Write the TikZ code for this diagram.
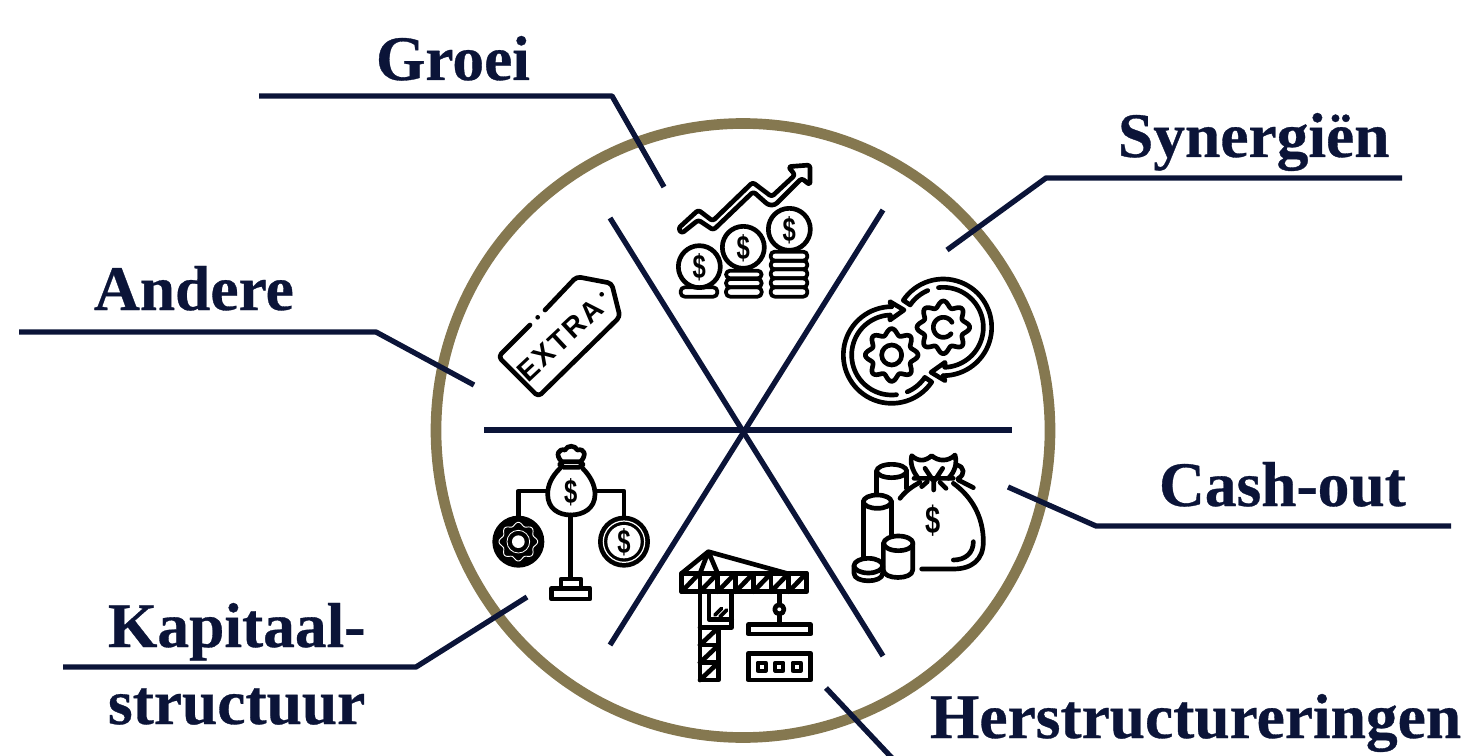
\documentclass[tikz,border=0pt]{standalone}
\usepackage{graphicx}
\usepackage{fontspec}
\setmainfont[BoldFeatures={FakeBold=0.5}]{Liberation Serif}
\newfontfamily\iconfont{Liberation Sans Bold}
\definecolor{navy}{HTML}{0B1438}
\definecolor{ringgold}{HTML}{857850}
\tikzset{
  lbl/.style={font=\fontsize{47.6pt}{50pt}\selectfont\bfseries,text=navy,anchor=base west,inner sep=0pt,outer sep=0pt},
  spoke/.style={draw=navy,line width=4pt},
  callout/.style={draw=navy,line width=4pt,line join=round},
  ring/.style={draw=ringgold,line width=8pt},
  ico/.style={draw=black,line width=3.5pt,line cap=round,line join=round},
  icothin/.style={draw=black,line width=2.8pt,line cap=round,line join=round},
  dollar/.style={font=\iconfont\fontsize{21pt}{21pt}\selectfont,text=black,inner sep=0pt},
  zoomed/.style={x=0.25pt,y=-0.25pt}
}
\newcommand{\dol}{\scalebox{0.85}[1.2]{\$}}
\newcommand{\gearpath}[4]{plot[domain=0:360,samples=145,variable=\t,smooth] ({#1+(#3+#4*cos(8*\t))*cos(\t)},{#2-(#3+#4*cos(8*\t))*sin(\t)})}
\newcommand{\swirl}{
  \draw[ico] plot[domain=90:326,samples=50,variable=\t] ({185+145*cos(\t)},{270-145*sin(\t)})
     -- plot[domain=326:293,samples=10,variable=\t] ({185+120*cos(\t)},{270-120*sin(\t)});
  \draw[ico] (185,125) -- (180,110) -- (222,135) -- (180,165) -- (180,150)
     -- plot[domain=92:277,samples=50,variable=\t] ({185+120*cos(\t)},{270-120*sin(\t)});
  \draw[ico] \gearpath{185}{270}{70}{9} -- cycle;
}
\begin{document}
\begin{tikzpicture}[x=0.75pt,y=-0.75pt]
\useasboundingbox (0,0) rectangle (1471,756);
% ring and spokes
\coordinate (hub) at (743,430.5);
\draw[ring] (hub) circle (307);
\coordinate (s1) at (484,430); \coordinate (s2) at (1012,430);
\coordinate (s3) at (610,218); \coordinate (s4) at (883,656);
\coordinate (s5) at (883,210); \coordinate (s6) at (610,645);
\draw[spoke] (s1) -- (s2);
\draw[spoke] (s3) -- (s4);
\draw[spoke] (s5) -- (s6);
% labels
\node[lbl] (groei) at (376,80) {Groei};
\node[lbl] (syn) at (1118,157) {Synergiën};
\node[lbl] (andere) at (94,310) {Andere};
\node[lbl] (cash) at (1159,506) {Cash-out};
\node[lbl] (kap) at (108,647) {Kapitaal-};
\node[lbl] (struct) at (108,724) {structuur};
\node[lbl] (herstr) at (930,738) {Herstructureringen};
% callouts
\coordinate (g0) at (259,96); \coordinate (g1) at (612,96); \coordinate (g2) at (664,187);
\draw[callout] (g0) -- (g1) -- (g2);
\coordinate (y0) at (1402,178); \coordinate (y1) at (1046,178); \coordinate (y2) at (947,250);
\draw[callout] (y0) -- (y1) -- (y2);
\coordinate (a0) at (19,332); \coordinate (a1) at (376,332); \coordinate (a2) at (474,385);
\draw[callout] (a0) -- (a1) -- (a2);
\coordinate (c0) at (1451,526); \coordinate (c1) at (1096,526); \coordinate (c2) at (1008,487);
\draw[callout] (c0) -- (c1) -- (c2);
\coordinate (k0) at (63,667); \coordinate (k1) at (416,667); \coordinate (k2) at (527,597);
\draw[callout] (k0) -- (k1) -- (k2);
\coordinate (h0) at (826,688); \coordinate (h1) at (892,758);
\draw[callout] (h0) -- (h1);

% ---- growth icon
\begin{scope}[shift={(660,150)},zoomed]
  \draw[ico,rounded corners=2pt] (55,235) -- (115,180) -- (158,213) -- (278,97) -- (335,140) -- (405,75) -- (385,50) -- (450,45) -- (450,105) -- (425,85) -- (345,165) -- (325,165) -- (280,125) -- (160,240) -- (115,210) -- (65,250) -- cycle;
  \draw[ico] (118,350) circle (63);
  \draw[ico] (250,292) circle (63);
  \draw[ico] (388,238) circle (63);
  \node[dollar] (d1) at (118,352) {\dol};
  \node[dollar] (d2) at (250,294) {\dol};
  \node[dollar] (d3) at (388,240) {\dol};
  \foreach \a/\b/\c/\d in {62/412/172/440,198/362/305/385,198/387/305/412,198/412/305/440,332/305/442/332,332/332/442/358,332/358/442/385,332/385/442/412,332/412/442/440}
    \draw[icothin,rounded corners=3pt] (\a,\b) rectangle (\c,\d);
\end{scope}

% ---- gears icon
\begin{scope}[shift={(830,265)},zoomed]
  \swirl
  \draw[ico] (185,270) circle (30);
  \begin{scope}[shift={(525,457)},xscale=-1,yscale=-1]
    \swirl
  \end{scope}
  \draw[ico] plot[domain=30:320,samples=40,variable=\t] ({340+30*cos(\t)},{187-30*sin(\t)});
\end{scope}

% ---- money bag icon
\begin{scope}[shift={(840,445)},zoomed]
  \draw[ico] (235,100) .. controls (215,75) and (210,50) .. (215,32) .. controls (235,50) and (255,50) .. (275,32) .. controls (295,50) and (325,50) .. (345,30) .. controls (352,55) and (345,80) .. (325,100);
  \draw[ico] (350,60) .. controls (375,65) and (375,90) .. (355,100);
  \draw[ico] (255,70) -- (278,105) (308,70) -- (285,105) (281,105) -- (281,135) (222,100) -- (281,100) -- (340,100);
  \draw[ico] (245,125) -- (262,110) (318,130) -- (300,112) (355,105) -- (400,128);
  \draw[ico] (180,160) .. controls (195,140) and (215,125) .. (240,112);
  \draw[ico] (340,115) .. controls (395,155) and (430,215) .. (430,290) .. controls (430,345) and (395,372) .. (340,372) -- (245,372);
  \draw[ico] (340,345) .. controls (375,345) and (400,325) .. (400,290);
  \node[dollar,font=\iconfont\fontsize{24pt}{24pt}\selectfont] (d4) at (280,226) {\dol};
  % coins
  \draw[ico,fill=white] (110,145) -- (110,78) (200,78) -- (200,130);
  \draw[ico,fill=white] (155,78) ellipse (45 and 20);
  \draw[ico,fill=white] (70,335) -- (70,170) -- (155,170) -- (155,270);
  \draw[ico,fill=white] (112,170) ellipse (42 and 20);
  \draw[ico,fill=white] (130,295) -- (130,375) .. controls (130,405) and (218,405) .. (218,375) -- (218,295);
  \draw[ico,fill=white] (175,295) ellipse (44 and 22);
  \draw[ico,fill=white] (42,362) -- (42,385) .. controls (42,415) and (128,415) .. (128,385) -- (128,362);
  \draw[ico,fill=white] (85,362) ellipse (43 and 22);
\end{scope}

% ---- crane icon
\begin{scope}[shift={(665,540)},zoomed]
  \draw[ico] (50,100) rectangle (425,155);
  \foreach \x in {105,158,212,265,318,371} \draw[ico] (\x,100) -- (\x,155);
  \foreach \x in {50,105,158,212,265,318,371} \draw[ico] (\x,155) -- ++(53,-55);
  \draw[ico] (50,100) -- (130,35) -- (105,100) (130,35) -- (158,100) (130,35) -- (365,100);
  \draw[ico] (105,155) -- (105,420) -- (160,420) -- (160,262);
  \draw[ico] (105,262) -- (200,262) -- (200,155);
  \draw[ico] (132,155) -- (132,238) -- (200,238);
  \draw[icothin] (150,225) -- (170,205) (165,230) -- (185,210);
  \foreach \y in {315,368} \draw[ico] (105,\y) -- (160,\y);
  \foreach \y in {315,368,420} \draw[ico] (105,\y) -- ++(55,-52);
  \draw[ico] (343,155) -- (343,195) (343,222) -- (343,252);
  \draw[ico] (343,208) circle (14);
  \draw[ico] (250,254) rectangle (437,282);
  \draw[ico] (250,340) rectangle (437,420);
  \foreach \x in {290,343,395} \draw[icothin] (\x-12,368) rectangle (\x+12,392);
\end{scope}

% ---- balance icon
\begin{scope}[shift={(480,435)},zoomed]
  \draw[ico] (245,80) .. controls (225,60) and (235,40) .. (255,45) .. controls (262,30) and (285,30) .. (292,45) .. controls (315,40) and (320,60) .. (302,80);
  \draw[ico,rounded corners=3pt] (240,80) rectangle (308,97);
  \draw[ico] (240,100) .. controls (215,125) and (203,150) .. (203,178) .. controls (203,220) and (235,240) .. (272,240) .. controls (310,240) and (345,220) .. (345,178) .. controls (345,150) and (332,125) .. (308,100);
  \node[dollar] (d5) at (272,172) {\dol};
  \draw[ico] (203,168) -- (115,168) -- (115,245) (345,168) -- (432,168) -- (432,245);
  \draw[ico] (272,240) -- (272,430);
  \draw[ico] (243,460) -- (243,432) -- (303,432) -- (303,460);
  \draw[ico] (215,460) rectangle (330,492);
  \fill[black] (115,320) circle (78);
  \draw[white,line width=0.7pt] \gearpath{115}{320}{53}{5} -- cycle;
  \draw[white,line width=0.6pt] (115,320) circle (34);
  \fill[white] (115,320) circle (19);
  \fill[black] (432,320) circle (78);
  \draw[white,line width=0.9pt] (432,320) circle (62);
  \fill[white] (432,320) circle (50);
  \node[dollar] (d6) at (432,322) {\dol};
\end{scope}

% ---- extra tag icon
\begin{scope}[shift={(485,265)},zoomed]
  \draw[ico,rounded corners=3pt] (180,135) -- (275,35) -- (380,55) -- (405,155) -- (160,395) -- (40,275) -- (135,180);
  \fill (158,157) circle (7);
  \fill (350,88) circle (7);
  \node[rotate=43,font=\iconfont\fontsize{21.5pt}{22pt}\selectfont\addfontfeature{LetterSpace=7},inner sep=0pt] (extra) at (225,225) {EXTRA};
\end{scope}
\end{tikzpicture}
\end{document}
